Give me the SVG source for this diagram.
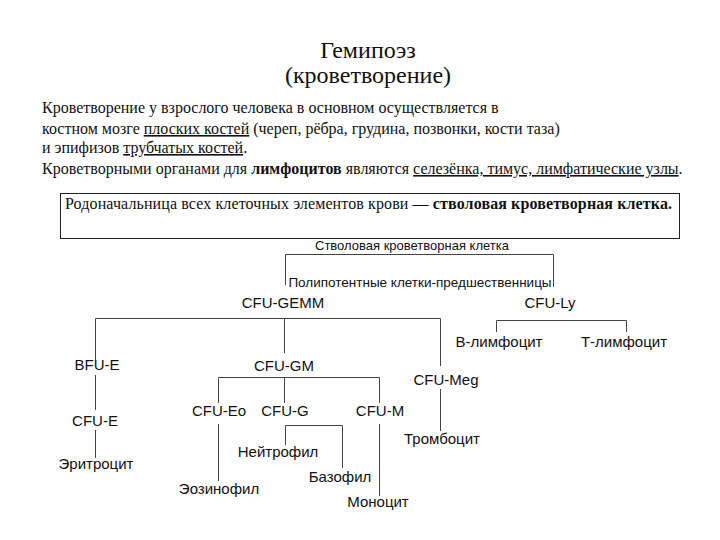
<svg xmlns="http://www.w3.org/2000/svg" width="720" height="540" viewBox="0 0 720 540">
<style>
.serif{font-family:"Liberation Serif","Times New Roman",serif;fill:#111}
.title{font-size:24px;text-anchor:middle}
.para{font-size:16px}
.u{text-decoration:underline}
.b{font-weight:bold}
.lbl{font-family:"Liberation Sans",Arial,sans-serif;font-size:15px;fill:#111;text-anchor:middle}
.sm{font-size:13.5px}
.md{font-size:13px}
.ln{stroke:#444;stroke-width:1;fill:none}
</style>
<rect width="720" height="540" fill="#fff"/>
<g id="header" class="serif">
<text class="serif title" x="368" y="58">Гемипоэз</text>
<text class="serif title" x="368" y="83">(кроветворение)</text>
<text class="serif para" x="42" y="113">Кроветворение у взрослого человека в основном осуществляется в</text>
<text class="serif para" x="42" y="134">костном мозге <tspan class="u">плоских костей</tspan> (череп, рёбра, грудина, позвонки, кости таза)</text>
<text class="serif para" x="42" y="153">и эпифизов <tspan class="u">трубчатых костей</tspan>.</text>
<text class="serif para" x="42" y="174">Кроветворными органами для <tspan class="b">лимфоцитов</tspan> являются <tspan class="u">селезёнка, тимус, лимфатические узлы</tspan>.</text>
</g>
<g id="infobox">
<rect x="60.5" y="193.5" width="619" height="45" fill="#fff" stroke="#222" stroke-width="1"/>
<text class="serif para" x="65" y="209" textLength="607" lengthAdjust="spacing">Родоначальница всех клеточных элементов крови — <tspan class="b">стволовая кроветворная клетка.</tspan></text>
</g>
<g id="connectors" class="ln">
<path d="M285.5 285V254.5H553.5V287"/>
<path d="M95.5 360V318.5H440.5V366"/>
<path d="M440.5 389V431"/>
<path d="M284.5 318V353"/>
<path d="M95.5 375V410"/>
<path d="M95.5 430V458"/>
<path d="M218.5 403V377.5H379.5V403"/>
<path d="M284.5 377V403"/>
<path d="M218.5 424V481"/>
<path d="M285.5 445V425.5H342.5V468"/>
<path d="M379.5 424V496"/>
<path d="M496.5 332V320.5H626.5V332"/>
</g>
<g id="n-stem"><text class="lbl md" x="412" y="250">Стволовая кроветворная клетка</text></g>
<g id="n-poly"><text class="lbl sm" x="420" y="287">Полипотентные клетки-предшественницы</text></g>
<g id="n-cfugemm"><text class="lbl" x="283" y="308">CFU-GEMM</text></g>
<g id="n-cfuly"><text class="lbl" x="550" y="308">CFU-Ly</text></g>
<g id="n-blym"><text class="lbl" x="499" y="347">В-лимфоцит</text></g>
<g id="n-tlym"><text class="lbl" x="624" y="347">Т-лимфоцит</text></g>
<g id="n-bfue"><text class="lbl" x="97" y="370">BFU-E</text></g>
<g id="n-cfugm"><text class="lbl" x="284" y="371">CFU-GM</text></g>
<g id="n-cfumeg"><text class="lbl" x="446" y="385">CFU-Meg</text></g>
<g id="n-cfue"><text class="lbl" x="95" y="426">CFU-E</text></g>
<g id="n-cfueo"><text class="lbl" x="219" y="416">CFU-Eo</text></g>
<g id="n-cfug"><text class="lbl" x="285" y="416">CFU-G</text></g>
<g id="n-cfum"><text class="lbl" x="380" y="416">CFU-M</text></g>
<g id="n-tromb"><text class="lbl" x="442" y="444">Тромбоцит</text></g>
<g id="n-neut"><text class="lbl" x="278" y="457">Нейтрофил</text></g>
<g id="n-eryth"><text class="lbl" x="96" y="469">Эритроцит</text></g>
<g id="n-baso"><text class="lbl" x="340" y="482">Базофил</text></g>
<g id="n-eos"><text class="lbl" x="219" y="494">Эозинофил</text></g>
<g id="n-mono"><text class="lbl" x="378" y="507">Моноцит</text></g>
</svg>
